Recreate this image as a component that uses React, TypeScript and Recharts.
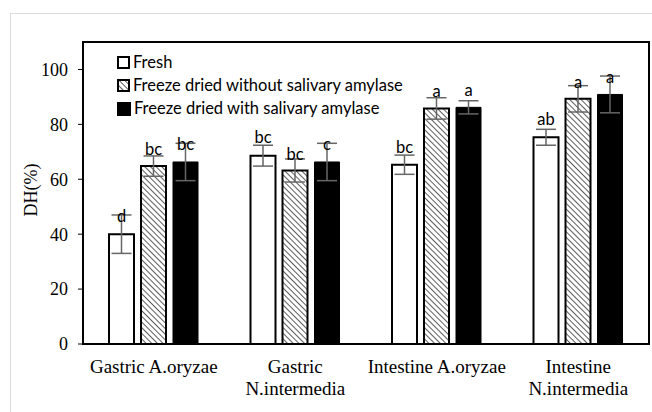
import React from "react";
import {
  Bar,
  BarChart,
  ErrorBar,
  LabelList,
  ReferenceArea,
  XAxis,
  YAxis,
} from "recharts";

// categories on the x axis ("\n" splits a label over two lines)
const categories = [
  "Gastric A.oryzae",
  "Gastric\nN.intermedia",
  "Intestine A.oryzae",
  "Intestine\nN.intermedia",
];

const seriesNames = [
  "Fresh",
  "Freeze dried without salivary amylase",
  "Freeze dried with salivary amylase",
];

// DH (%) per group
const fresh = [40.0, 68.6, 65.3, 75.3];
const noAmylase = [64.8, 63.2, 85.8, 89.3];
const withAmylase = [66.3, 66.3, 86.2, 90.9];

// error bars (+/-)
const freshErr = [7.0, 3.8, 3.5, 2.9];
const noAmylaseErr = [3.7, 4.2, 3.9, 4.8];
const withAmylaseErr = [6.8, 6.8, 2.4, 6.7];

// significance letters and the level they sit at
const freshLetters = ["d", "bc", "bc", "ab"];
const noAmylaseLetters = ["bc", "bc", "a", "a"];
const withAmylaseLetters = ["bc", "c", "a", "a"];
const freshLetterAt = [46.4, 75.2, 71.6, 81.8];
const noAmylaseLetterAt = [70.8, 69.3, 92.1, 95.4];
const withAmylaseLetterAt = [72.6, 72.6, 92.4, 97.2];

const yTicks = [0, 20, 40, 60, 80, 100];
const yMax = 110;

const data = categories.map((name, i) => ({
  name,
  fresh: fresh[i],
  noAmylase: noAmylase[i],
  withAmylase: withAmylase[i],
  freshErr: freshErr[i],
  noAmylaseErr: noAmylaseErr[i],
  withAmylaseErr: withAmylaseErr[i],
}));

const SERIF = "'Liberation Serif', 'Times New Roman', serif";
const SANS = "Lato, 'Noto Sans', sans-serif";

function letterLabel(letters: string[], at: number[]) {
  return (props: any) => {
    const { x, y, width, height, value, index } = props;
    // pixels per unit from the bar itself
    const k = height / value;
    const base = y + height;
    const ly = base - at[index] * k;
    return (
      <text
        x={x + width / 2}
        y={ly}
        dy="0.35em"
        textAnchor="middle"
        fontFamily={SANS}
        fontSize={16.5}
        fill="#000"
      >
        {letters[index]}
      </text>
    );
  };
}

function CategoryTick(props: any) {
  const { x, y, payload } = props;
  const lines = String(payload.value).split("\n");
  return (
    <text x={x} y={y} textAnchor="middle" fontFamily={SERIF} fontSize={19} fill="#000">
      {lines.map((l, i) => (
        <tspan key={i} x={x} dy={i === 0 ? 21 : 22}>
          {l}
        </tspan>
      ))}
    </text>
  );
}

function LegendBox() {
  const row = { display: "flex", alignItems: "center", height: 23 } as const;
  const box = {
    width: 10,
    height: 10,
    border: "2px solid #000",
    marginRight: 3,
    boxSizing: "content-box",
  } as const;
  return (
    <div
      style={{
        position: "absolute",
        left: 117,
        top: 51,
        fontFamily: SANS,
        fontSize: 16.5,
        color: "#000",
        lineHeight: "23px",
      }}
    >
      <div style={row}>
        <span style={{ ...box, width: 9, height: 9, background: "#fff" }} />
        {seriesNames[0]}
      </div>
      <div style={row}>
        <svg width={13} height={13} style={{ marginRight: 3 }}>
          <rect x={1} y={1} width={11} height={11} fill="url(#hatch)" stroke="#000" strokeWidth={2} />
        </svg>
        {seriesNames[1]}
      </div>
      <div style={row}>
        <span style={{ ...box, background: "#000" }} />
        {seriesNames[2]}
      </div>
    </div>
  );
}

export default function App() {
  return (
    <div
      style={{
        position: "fixed",
        left: 0,
        top: 0,
        width: 652,
        height: 412,
        background: "#fff",
        overflow: "hidden",
      }}
    >
      <div
        style={{
          position: "absolute",
          left: 10,
          top: 13,
          width: 700,
          height: 500,
          borderLeft: "1.5px solid #dcdcdc",
          borderTop: "1.5px solid #dcdcdc",
        }}
      />
      <div style={{ position: "absolute", left: 0, top: 0 }}>
        <BarChart
          width={652}
          height={412}
          data={data}
          margin={{ top: 42, right: 3, left: 0, bottom: 0 }}
          barSize={25}
          barGap={7}
        >
          <defs>
            <pattern
              id="hatch"
              patternUnits="userSpaceOnUse"
              width={4}
              height={4}
              patternTransform="rotate(-45)"
            >
              <rect width={4} height={4} fill="#fff" />
              <line x1={0} y1={0} x2={0} y2={4} stroke="#333" strokeWidth={1.6} />
            </pattern>
          </defs>
          {/* plot-area frame */}
          <ReferenceArea y1={0} y2={yMax} fill="none" stroke="#000" strokeWidth={2} />
          <XAxis
            dataKey="name"
            height={68}
            axisLine={{ stroke: "#000", strokeWidth: 2 }}
            tickLine={false}
            tick={<CategoryTick />}
            interval={0}
          />
          <YAxis
            domain={[0, yMax]}
            ticks={yTicks}
            width={83}
            axisLine={{ stroke: "#000", strokeWidth: 2 }}
            tickLine={{ stroke: "#000" }}
            tickSize={5}
            tickMargin={10}
            tick={{ fontFamily: SERIF, fontSize: 18, fill: "#000" }}
            label={{
              content: () => (
                <text
                  x={31}
                  y={190}
                  transform="rotate(-90 31 190)"
                  textAnchor="middle"
                  dy="0.35em"
                  fontFamily={SERIF}
                  fontSize={18}
                  fill="#000"
                >
                  DH(%)
                </text>
              ),
            }}
          />
          <Bar dataKey="fresh" fill="#fff" stroke="#000" strokeWidth={2} isAnimationActive={false}>
            <ErrorBar dataKey="freshErr" width={10} stroke="#666" strokeWidth={1.5} />
            <LabelList dataKey="fresh" content={letterLabel(freshLetters, freshLetterAt)} />
          </Bar>
          <Bar dataKey="noAmylase" fill="url(#hatch)" stroke="#000" strokeWidth={2} isAnimationActive={false}>
            <ErrorBar dataKey="noAmylaseErr" width={10} stroke="#666" strokeWidth={1.5} />
            <LabelList dataKey="noAmylase" content={letterLabel(noAmylaseLetters, noAmylaseLetterAt)} />
          </Bar>
          <Bar dataKey="withAmylase" fill="#000" stroke="#000" strokeWidth={1} isAnimationActive={false}>
            <ErrorBar dataKey="withAmylaseErr" width={10} stroke="#666" strokeWidth={1.5} />
            <LabelList dataKey="withAmylase" content={letterLabel(withAmylaseLetters, withAmylaseLetterAt)} />
          </Bar>
        </BarChart>
      </div>
      <LegendBox />
    </div>
  );
}
